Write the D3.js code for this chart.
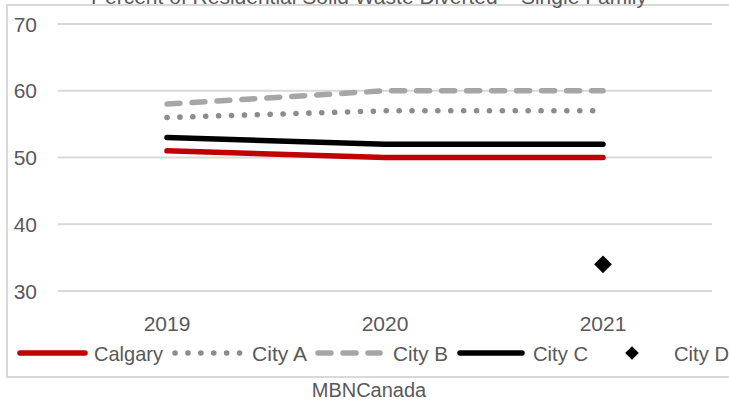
<!DOCTYPE html>
<html>
<head>
<meta charset="utf-8">
<script src="https://cdn.jsdelivr.net/npm/d3@7"></script>
<style>
  body { margin: 0; background: #fff; }
  svg { display: block; }
</style>
</head>
<body>
<svg width="729" height="400"></svg>
<script>
// data
var years = ["2019", "2020", "2021"];
var calgary = [51, 50, 50];
var cityA = [56, 57, 57];
var cityB = [58, 60, 60];
var cityC = [53, 52, 52];
var cityD = [null, null, 34];
var yTicks = [30, 40, 50, 60, 70];

var series = [
  {name: "Calgary", values: calgary, color: "#c00000", dash: null},
  {name: "City A", values: cityA, color: "#8c8c8c", dash: "0.1 12.8"},
  {name: "City B", values: cityB, color: "#a6a6a6", dash: "13 12"},
  {name: "City C", values: cityC, color: "#000000", dash: null}
];

var svg = d3.select("svg");
var font = "'Liberation Sans', Arial, sans-serif";

// outer border
svg.append("rect")
  .attr("x", 7).attr("y", 5)
  .attr("width", 740).attr("height", 372)
  .attr("fill", "none").attr("stroke", "#d9d9d9").attr("stroke-width", 2);

// title (cut at top)
svg.append("text")
  .attr("x", 369).attr("y", 4)
  .attr("text-anchor", "middle")
  .attr("font-family", font)
  .attr("font-size", 21).attr("fill", "#595959")
  .text("Percent of Residential Solid Waste Diverted \u2013 Single Family");

var x = d3.scaleBand().domain(years).range([58, 712]);
var y = d3.scaleLinear().domain([30, 70]).range([291, 24]);

// gridlines
svg.append("g").selectAll("line")
  .data(yTicks)
  .enter().append("line")
  .attr("x1", 58).attr("x2", 712)
  .attr("y1", function(d) { return y(d); })
  .attr("y2", function(d) { return y(d); })
  .attr("stroke", "#d9d9d9").attr("stroke-width", 2);

// y labels
svg.append("g").selectAll("text")
  .data(yTicks)
  .enter().append("text")
  .attr("x", 37).attr("y", function(d) { return y(d); })
  .attr("dy", "0.36em")
  .attr("text-anchor", "end")
  .attr("font-family", font).attr("font-size", 21).attr("fill", "#595959")
  .text(function(d) { return d; });

// x labels
svg.append("g").selectAll("text")
  .data(years)
  .enter().append("text")
  .attr("x", function(d) { return x(d) + x.bandwidth() / 2; })
  .attr("y", 323).attr("dy", "0.36em")
  .attr("text-anchor", "middle")
  .attr("font-family", font).attr("font-size", 21).attr("fill", "#595959")
  .text(function(d) { return d; });

var line = d3.line()
  .defined(function(d) { return d.v != null; })
  .x(function(d) { return x(d.yr) + x.bandwidth() / 2; })
  .y(function(d) { return y(d.v); });

svg.append("g").selectAll("path")
  .data(series.slice().reverse())
  .enter().append("path")
  .attr("d", function(s) { return line(years.map(function(yr, i) { return {yr: yr, v: s.values[i]}; })); })
  .attr("fill", "none")
  .attr("stroke", function(s) { return s.color; })
  .attr("stroke-width", 5.5)
  .attr("stroke-linecap", "round")
  .attr("stroke-dasharray", function(s) { return s.dash; });

// City D markers
var diamond = d3.symbol().type(d3.symbolDiamond2).size(200);
svg.append("g").selectAll("path")
  .data(years.map(function(yr, i) { return {yr: yr, v: cityD[i]}; }).filter(function(d) { return d.v != null; }))
  .enter().append("path")
  .attr("transform", function(d) { return "translate(" + (x(d.yr) + x.bandwidth() / 2) + "," + y(d.v) + ")"; })
  .attr("d", diamond)
  .attr("fill", "#000");

// legend
var legendLine = [[20, 85], [175, 241], [318, 380], [460, 522]];
var legendText = [94, 252, 393, 533];
var legend = svg.append("g");
series.forEach(function(s, i) {
  legend.append("line")
    .attr("x1", legendLine[i][0]).attr("x2", legendLine[i][1])
    .attr("y1", 353).attr("y2", 353)
    .attr("stroke", s.color).attr("stroke-width", 5.5)
    .attr("stroke-linecap", "round")
    .attr("stroke-dasharray", s.dash);
  legend.append("text")
    .attr("x", legendText[i]).attr("y", 353).attr("dy", "0.36em")
    .attr("font-family", font).attr("font-size", 21).attr("fill", "#595959")
    .attr("textLength", s.name == "Calgary" ? 69 : 55)
    .attr("lengthAdjust", "spacingAndGlyphs")
    .text(s.name);
});
legend.append("path")
  .attr("transform", "translate(632,353)")
  .attr("d", d3.symbol().type(d3.symbolDiamond2).size(120))
  .attr("fill", "#000");
legend.append("text")
  .attr("x", 674).attr("y", 353).attr("dy", "0.36em")
  .attr("font-family", font).attr("font-size", 21).attr("fill", "#595959")
  .attr("textLength", 55)
  .attr("lengthAdjust", "spacingAndGlyphs")
  .text("City D");

// source
svg.append("text")
  .attr("x", 369).attr("y", 390).attr("dy", "0.36em")
  .attr("text-anchor", "middle")
  .attr("font-family", font)
  .attr("font-size", 20).attr("fill", "#595959")
  .text("MBNCanada");
</script>
</body>
</html>
